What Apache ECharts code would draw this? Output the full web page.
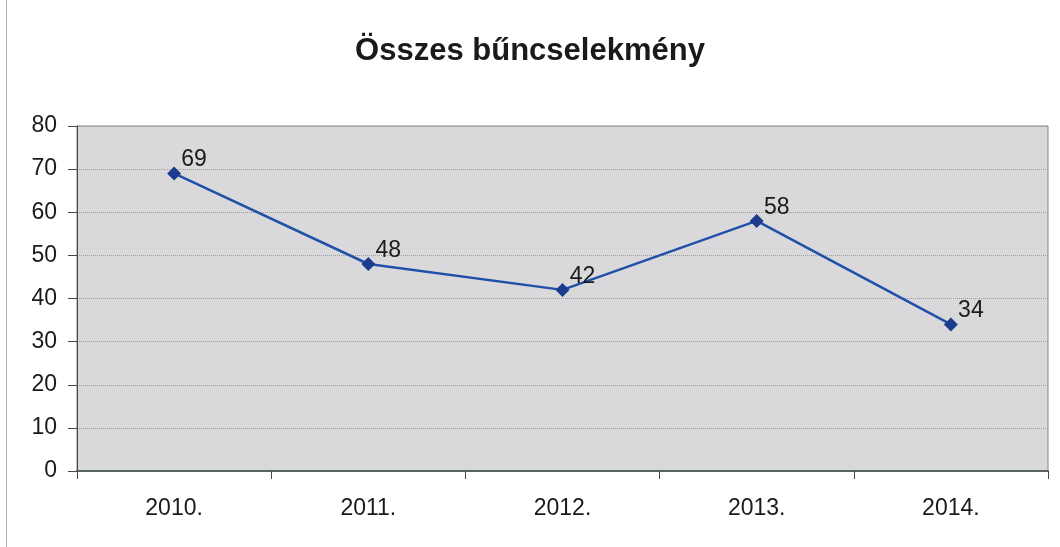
<!DOCTYPE html>
<html>
<head>
<meta charset="utf-8">
<script src="https://cdn.jsdelivr.net/npm/echarts@6/dist/echarts.min.js"></script>
<style>
  html, body { margin: 0; padding: 0; background: #ffffff; }
  #main { width: 1060px; height: 547px; }
  #edge { position: absolute; left: 6px; top: 0; width: 1px; height: 547px; background: #c9a9a9; }
</style>
</head>
<body>
<div id="main"></div>
<div id="edge"></div>
<script>
// adatok
const years = ['2010.', '2011.', '2012.', '2013.', '2014.'];
const crimes = [69, 48, 42, 58, 34];
const yTicks = [0, 80, 10];

let myChart = echarts.init(document.getElementById('main'));
let option = {
    backgroundColor: '#ffffff',
    title: {
        text: 'Összes bűncselekmény',
        left: 'center', top: 31,
        textStyle: { fontFamily: 'Liberation Sans', fontSize: 31, fontWeight: 'bold', color: '#1a1a1a' }
    },
    grid: {
        left: 77, right: 12, top: 126, bottom: 76,
        show: true, backgroundColor: '#d9d9db', borderColor: '#7d8782', borderWidth: 1
    },
    xAxis: {
        type: 'category', data: years, boundaryGap: true,
        axisLine: { lineStyle: { color: '#3f4a46', width: 1.5 } },
        axisTick: { show: true, length: 8, lineStyle: { color: '#3f4a46' } },
        axisLabel: { margin: 26, fontFamily: 'Liberation Sans', fontSize: 23, color: '#1a1a1a' }
    },
    yAxis: {
        type: 'value', min: yTicks[0], max: yTicks[1], interval: yTicks[2],
        axisLine: { show: true, lineStyle: { color: '#3f4a46', width: 1 } },
        axisTick: { show: true, length: 9, lineStyle: { color: '#3f4a46' } },
        axisLabel: { margin: 20, fontFamily: 'Liberation Sans', fontSize: 23, color: '#1a1a1a' },
        splitLine: { lineStyle: { color: '#9aa09e', type: 'dotted', width: 1 } }
    },
    series: [{
        type: 'line', data: crimes,
        symbol: 'diamond', symbolSize: 14,
        lineStyle: { color: '#2050a8', width: 2.5 },
        itemStyle: { color: '#1b3c8c' },
        label: {
            show: true, position: 'top', offset: [20, 8], distance: 3,
            fontFamily: 'Liberation Sans', fontSize: 23, color: '#1a1a1a'
        }
    }]
};
myChart.setOption(option);
</script>
</body>
</html>
